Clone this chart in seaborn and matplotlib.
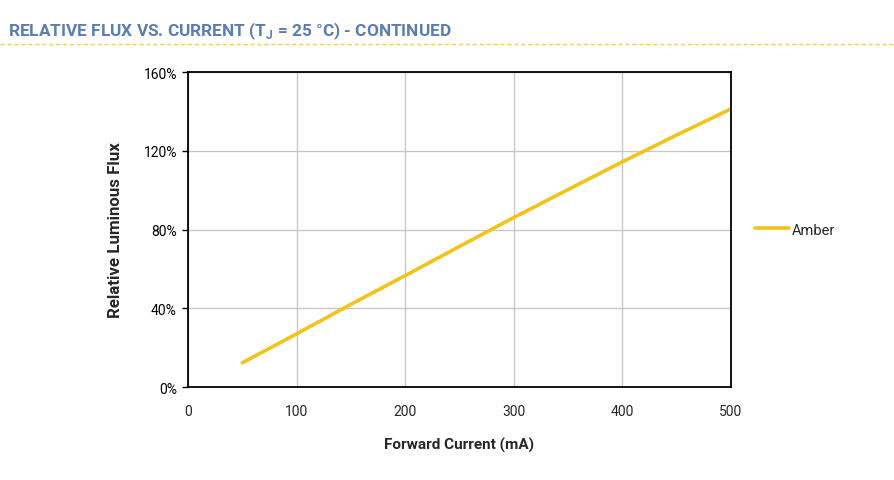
import matplotlib
matplotlib.use("Agg")
import matplotlib.pyplot as plt
import seaborn as sns
import pandas as pd
from matplotlib.ticker import PercentFormatter

# data
current_ma = [50, 100, 150, 200, 250, 300, 350, 400, 450, 500]
rel_flux = [12.3, 27.0, 42.0, 56.6, 71.4, 86.1, 100.3, 114.4, 128.0, 141.3]
series = "Amber"

df = pd.DataFrame({"current": current_ma, "flux": rel_flux, "series": series})

sns.set_theme(style="white")
plt.rcParams["font.family"] = ["Roboto", "DejaVu Sans"]

fig = plt.figure(figsize=(8.94, 4.81), dpi=100)
ax = fig.add_axes([0.2103, 0.1933, 0.6074, 0.6549])

sns.lineplot(data=df, x="current", y="flux", hue="series",
             palette={"Amber": "#F2C318"}, linewidth=2.6, ax=ax)

ax.set_xlim(0, 500)
ax.set_ylim(0, 160)
ax.set_xticks([0, 100, 200, 300, 400, 500])
ax.set_yticks([0, 40, 80, 120, 160])
ax.yaxis.set_major_formatter(PercentFormatter(decimals=0))
ax.grid(True, color="#c8c8c8", linewidth=1)
ax.set_axisbelow(True)
for s in ax.spines.values():
    s.set_color("black")
    s.set_linewidth(1.3)
ax.tick_params(axis="y", left=True, length=4, width=1, colors="black",
               labelsize=10, pad=4)
ax.tick_params(axis="x", bottom=False, labelsize=10, pad=6)

ax.set_xlabel("Forward Current (mA)", fontsize=11, fontweight="bold",
              labelpad=14)
ax.set_ylabel("Relative Luminous Flux", fontsize=12.2, fontweight="bold",
              labelpad=15)

leg = ax.legend(loc="center left", bbox_to_anchor=(1.02, 0.5), frameon=False,
                handlelength=2.3, handletextpad=0.2, fontsize=10.5)
leg.set_title(None)

# header with dashed rule
fig.text(0.009, 0.934, r"RELATIVE FLUX VS. CURRENT (T$_\mathregular{J}$ = 25 °C) - CONTINUED",
         fontsize=12.4, fontweight="bold", color="#5B7DB1", va="center")
fig.add_artist(plt.Line2D([0.0, 1.0], [0.907, 0.907], transform=fig.transFigure,
                          color="#F3D23C", linestyle=(0, (3, 2)), linewidth=1.0))

fig.savefig("out.png", dpi=100)
